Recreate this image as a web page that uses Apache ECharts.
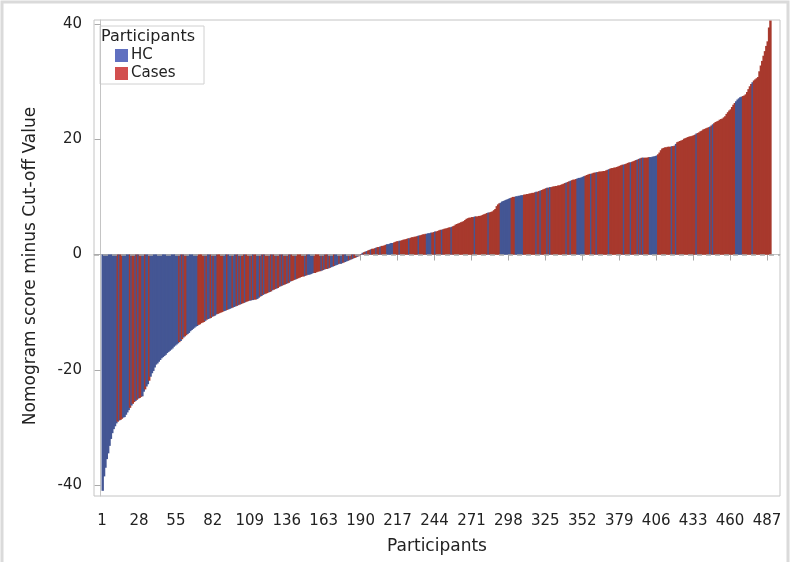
<!DOCTYPE html>
<html>
<head>
<meta charset="utf-8">
<script src="https://cdn.jsdelivr.net/npm/echarts@6/dist/echarts.min.js"></script>
<style>
html, body { margin: 0; padding: 0; background: #fff; }
#chart { width: 791px; height: 562px; }
</style>
</head>
<body>
<div id="chart"></div>
<script>
// sorted nomogram score minus cut-off, one value per participant
var scores = [
    -41.0,-38.5,-37.0,-35.5,-34.5,-33.2,-32.0,-31.0,-30.3,-29.8,
    -29.3,-29.0,-28.8,-28.7,-28.5,-28.3,-28.2,-27.8,-27.4,-27.0,
    -26.6,-26.2,-25.9,-25.6,-25.4,-25.2,-25.0,-24.9,-24.7,-24.6,
    -23.8,-23.4,-22.9,-22.5,-21.9,-21.2,-20.6,-20.2,-19.6,-19.1,
    -18.9,-18.6,-18.3,-18.0,-17.8,-17.6,-17.4,-17.1,-16.9,-16.7,
    -16.5,-16.3,-16.0,-15.8,-15.6,-15.4,-15.2,-15.0,-14.7,-14.4,
    -14.2,-14.0,-13.8,-13.6,-13.3,-13.1,-12.9,-12.7,-12.5,-12.4,
    -12.2,-12.1,-11.9,-11.8,-11.7,-11.5,-11.3,-11.2,-11.1,-11.0,
    -10.8,-10.7,-10.6,-10.4,-10.3,-10.2,-10.1,-10.0,-9.9,-9.8,
    -9.7,-9.6,-9.5,-9.4,-9.3,-9.2,-9.1,-9.0,-8.9,-8.8,
    -8.7,-8.6,-8.5,-8.4,-8.3,-8.2,-8.1,-8.0,-8.0,-7.9,
    -7.9,-7.8,-7.8,-7.7,-7.5,-7.3,-7.2,-7.0,-6.9,-6.8,
    -6.7,-6.6,-6.5,-6.4,-6.2,-6.1,-6.0,-5.9,-5.8,-5.6,
    -5.5,-5.4,-5.3,-5.2,-5.1,-5.0,-4.9,-4.7,-4.6,-4.5,
    -4.4,-4.3,-4.2,-4.1,-4.0,-3.9,-3.8,-3.8,-3.7,-3.6,
    -3.5,-3.5,-3.4,-3.3,-3.2,-3.2,-3.1,-3.0,-2.9,-2.9,
    -2.8,-2.7,-2.6,-2.5,-2.5,-2.4,-2.3,-2.2,-2.1,-2.0,
    -1.9,-1.8,-1.7,-1.6,-1.6,-1.5,-1.4,-1.3,-1.2,-1.1,
    -1.0,-0.9,-0.8,-0.7,-0.6,-0.5,-0.4,-0.3,-0.1,0.1,
    0.3,0.4,0.5,0.6,0.7,0.8,0.9,1.0,1.0,1.1,
    1.2,1.3,1.3,1.4,1.5,1.5,1.6,1.7,1.8,1.8,
    1.9,2.0,2.0,2.1,2.2,2.3,2.3,2.4,2.4,2.5,
    2.6,2.6,2.7,2.8,2.8,2.9,3.0,3.0,3.1,3.1,
    3.2,3.3,3.3,3.4,3.5,3.5,3.6,3.6,3.7,3.7,
    3.8,3.8,3.9,4.0,4.0,4.1,4.2,4.3,4.3,4.4,
    4.5,4.5,4.6,4.7,4.7,4.8,4.9,5.0,5.2,5.3,
    5.4,5.5,5.6,5.7,5.8,6.0,6.2,6.3,6.4,6.4,
    6.5,6.5,6.6,6.6,6.6,6.7,6.7,6.8,6.9,7.0,
    7.1,7.2,7.3,7.3,7.4,7.5,7.7,7.9,8.4,8.7,
    8.9,9.0,9.2,9.3,9.4,9.5,9.6,9.7,9.8,9.9,
    10.0,10.0,10.1,10.1,10.2,10.2,10.3,10.3,10.4,10.4,
    10.5,10.5,10.6,10.6,10.7,10.7,10.8,10.9,10.9,11.0,
    11.1,11.2,11.3,11.4,11.5,11.6,11.6,11.7,11.7,11.8,
    11.8,11.9,11.9,12.0,12.0,12.1,12.2,12.3,12.4,12.5,
    12.6,12.7,12.8,12.9,13.0,13.0,13.1,13.2,13.3,13.3,
    13.4,13.5,13.6,13.7,13.8,13.9,14.0,14.0,14.1,14.2,
    14.2,14.3,14.3,14.4,14.4,14.4,14.5,14.5,14.6,14.7,
    14.8,14.9,15.0,15.0,15.1,15.1,15.2,15.3,15.4,15.5,
    15.6,15.6,15.7,15.8,15.9,16.0,16.0,16.1,16.2,16.3,
    16.4,16.5,16.6,16.7,16.8,16.8,16.8,16.8,16.8,16.9,
    16.9,16.9,17.0,17.0,17.1,17.2,17.4,17.7,18.1,18.4,
    18.5,18.6,18.6,18.7,18.7,18.7,18.8,18.8,18.9,19.2,
    19.5,19.6,19.7,19.8,19.9,20.1,20.2,20.3,20.4,20.5,
    20.5,20.6,20.7,20.8,21.0,21.1,21.2,21.4,21.5,21.7,
    21.8,21.9,22.0,22.1,22.2,22.4,22.6,22.8,23.0,23.1,
    23.2,23.4,23.5,23.6,23.8,24.0,24.4,24.7,25.0,25.2,
    25.6,26.0,26.3,26.6,26.9,27.1,27.3,27.4,27.5,27.6,
    27.8,28.2,28.7,29.2,29.6,29.9,30.2,30.4,30.6,30.8,
    31.8,32.8,33.6,34.5,35.3,36.2,37.0,39.4,40.6
];

// participant group per bar, H = HC, C = Cases (10 per block)
var groups = (
    'HHHHHHHHHH HCHCCHHHHH CHCCHCHCCH HCHHCHHHHH HHHHHHHHHH ' +
    'HHHHHHCHCH CCHHHHHHHH CCCCCHCHHC HCHHCCCCCH HCHHHCHHCH ' +
    'CHCCHCCCHC HCCHHCHCHC CCHCHCCHCC HCHCCHCHCC CHCCCCCCHC ' +
    'HHHHHCCCCC HCHCCHCHHC HHHCHHCHHH CHCHCCHCHC HCCHCCHCCC ' +
    'HCCHCCCCHH HHHCCCCHCC CCCCHCCCCC CHCCCCCHHH HCCHCCCCHC ' +
    'CCCCCHCCCC CCCCCCCCCC CCHCCCCCCC CCHCCCCCCC CHHHHHHHHC ' +
    'CCHHHHHHCC CCCCCCCHCC HCCCCHCHCC CCCCCCCCCH CCHCCCCHHH ' +
    'HHHCCCCHCC CHCCCCCCCC HCCCCCCCCC CHCCCCHCCC CHCHCHCCCC ' +
    'HHHHHHCCCC CCCCCCHCCH CCCCCCCCCC CCCCHCCCCC CCCCHCHCCC ' +
    'CCCCCCCCCC CCCHHHHHCC CCCCCHCCCC CCCCCCCCC'
).replace(/ /g, '');

var groupNames = ['HC', 'Cases'];
var barColors = { H: '#445694', C: '#a8392d' };
var legendColors = { H: '#6070c0', C: '#d24f4f' };
var xTicks = [1, 28, 55, 82, 109, 136, 163, 190, 217, 244, 271, 298, 325, 352, 379, 406, 433, 460, 487];
var yTicks = [-40, -20, 0, 20, 40];

// one bar per participant, drawn left to right so each overlaps the previous slightly
function bar_data(){
    var out = [];
    for (var i = 0; i < scores.length; i++){
        var g = groups.charAt(i) || 'C';
        out.push({
            value: [i + 1, scores[i]],
            itemStyle: { color: barColors[g] }
        });
    }
    return out;
}

var chart = echarts.init(document.getElementById('chart'));
var font = 'DejaVu Sans';
var option = {};

option['animation'] = false;
option['textStyle'] = { fontFamily: font };

option['grid'] = {
    left: 94,
    top: 20,
    right: 11,
    bottom: 66,
    show: true,
    borderColor: '#c4c4c4',
    borderWidth: 1
};

option['xAxis'] = {
    type: 'value',
    min: -4.85,
    max: 496.5,
    name: 'Participants',
    nameLocation: 'middle',
    nameGap: 42,
    nameTextStyle: { fontSize: 17, color: '#222', fontFamily: font },
    splitLine: { show: false },
    axisLine: { show: true, lineStyle: { color: '#c4c4c4' } },
    axisTick: { show: true, length: 6, lineStyle: { color: '#aaa' }, customValues: xTicks },
    axisLabel: { fontSize: 15, color: '#222', margin: 18, customValues: xTicks, fontFamily: font }
};

option['yAxis'] = {
    type: 'value',
    min: -41.9,
    max: 40.7,
    name: 'Nomogram score minus Cut-off Value',
    nameLocation: 'middle',
    nameGap: 55,
    nameTextStyle: { fontSize: 17, color: '#222', fontFamily: font, padding: [0, 16, 0, 0] },
    splitLine: { show: false },
    axisLine: { show: true, lineStyle: { color: '#c4c4c4' } },
    axisTick: { show: true, length: 6, lineStyle: { color: '#aaa' }, customValues: yTicks },
    axisLabel: { fontSize: 15, color: '#222', margin: 12, customValues: yTicks, fontFamily: font }
};

option['legend'] = {
    data: [
        { name: groupNames[0], itemStyle: { color: legendColors.H } },
        { name: groupNames[1], itemStyle: { color: legendColors.C } }
    ],
    orient: 'vertical',
    left: 115,
    top: 48,
    icon: 'rect',
    itemWidth: 13,
    itemHeight: 13,
    itemGap: 3,
    padding: 0,
    textStyle: { fontSize: 15, color: '#222', fontFamily: font, padding: [0, 0, 0, -2] }
};

option['graphic'] = [
    {
        type: 'rect',
        shape: { x: 2, y: 2, width: 786, height: 640 },
        style: { fill: 'none', stroke: '#dadada', lineWidth: 3 },
        silent: true
    },
    {
        type: 'rect',
        shape: { x: 100, y: 26, width: 104, height: 58 },
        style: { fill: 'none', stroke: '#d0d0d0', lineWidth: 1 },
        silent: true
    },
    {
        type: 'text',
        left: 101,
        top: 29,
        style: { text: 'Participants', fontSize: 16, fill: '#222', fontFamily: font },
        silent: true
    }
];

option['series'] = [
    {
        name: 'all',
        type: 'bar',
        data: bar_data(),
        barWidth: 2.4,
        barGap: '-100%',
        markLine: {
            silent: true,
            symbol: 'none',
            label: { show: false },
            lineStyle: { type: [5, 4], color: '#aaaaaa', width: 1.5 },
            data: [{ yAxis: 0 }]
        }
    },
    // empty series, only so the legend gets its two entries
    { name: groupNames[0], type: 'bar', data: [], barGap: '-100%', itemStyle: { color: legendColors.H } },
    { name: groupNames[1], type: 'bar', data: [], barGap: '-100%', itemStyle: { color: legendColors.C } }
];

chart.setOption(option);
</script>
</body>
</html>
